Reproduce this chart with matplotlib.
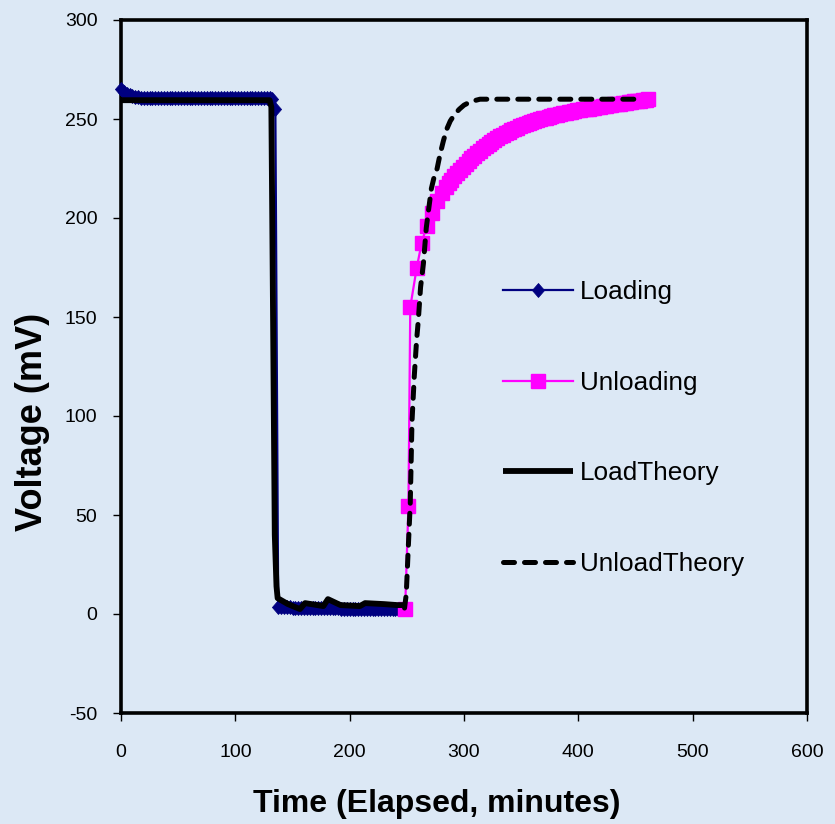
import matplotlib
matplotlib.use('Agg')
import matplotlib.pyplot as plt

plt.rcParams['font.family'] = ['Liberation Sans', 'DejaVu Sans']

# ---------------- data ----------------
load_t = [0, 2.5, 5, 7.5, 10, 12.5, 15, 17.5, 20, 22.5,
          25, 27.5, 30, 32.5, 35, 37.5, 40, 42.5, 45, 47.5,
          50, 52.5, 55, 57.5, 60, 62.5, 65, 67.5, 70, 72.5,
          75, 77.5, 80, 82.5, 85, 87.5, 90, 92.5, 95, 97.5,
          100, 102.5, 105, 107.5, 110, 112.5, 115, 117.5, 120, 122.5,
          125, 127.5, 130, 132.5, 135,
          137.5, 140, 142.5, 145, 147.5, 150, 152.5, 155, 157.5, 160,
          162.5, 165, 167.5, 170, 172.5, 175, 177.5, 180, 182.5, 185,
          187.5, 190, 192.5, 195, 197.5, 200, 202.5, 205, 207.5, 210,
          212.5, 215, 217.5, 220, 222.5, 225, 227.5, 230, 232.5, 235,
          237.5, 240, 242.5, 245, 247.5]
load_v = [265, 263.5, 262.5, 262, 261.5, 261.2, 261, 260.8, 260.7, 260.6,
          260.5, 260.5, 260.5, 260.5, 260.5, 260.5, 260.5, 260.5, 260.5, 260.5,
          260.5, 260.5, 260.5, 260.5, 260.5, 260.5, 260.5, 260.5, 260.5, 260.5,
          260.5, 260.5, 260.5, 260.5, 260.5, 260.5, 260.5, 260.5, 260.5, 260.5,
          260.5, 260.5, 260.5, 260.5, 260.5, 260.5, 260.5, 260.5, 260.5, 260.5,
          260.5, 260.5, 260.5, 260.3, 255,
          3.5, 3.4, 3.4, 3.3, 3.3, 3.2, 3.2, 3.2, 3.1, 3.1,
          3.1, 3.0, 3.0, 3.0, 2.9, 2.9, 2.9, 2.9, 2.8, 2.8,
          2.8, 2.8, 2.7, 2.7, 2.7, 2.7, 2.6, 2.6, 2.6, 2.6,
          2.6, 2.5, 2.5, 2.5, 2.5, 2.5, 2.4, 2.4, 2.4, 2.4,
          2.4, 2.4, 2.3, 2.3, 2.3]

unload_t = [248.5, 251.4, 253.0, 258.7, 263.0, 267.4, 271.8, 276.2, 280.6, 284.0,
            286.5, 289.0, 291.5, 294.0, 296.5, 299.0, 301.5, 304.0, 306.5, 309.0,
            311.5, 314.0, 316.5, 319.0, 321.5, 324.0, 326.5, 329.0, 331.5, 334.0,
            336.5, 339.0, 341.5, 344.0, 346.5, 349.0, 351.5, 354.0, 356.5, 359.0,
            361.5, 364.0, 366.5, 369.0, 371.5, 374.0, 376.5, 379.0, 381.5, 384.0,
            386.5, 389.0, 391.5, 394.0, 396.5, 399.0, 401.5, 404.0, 406.5, 409.0,
            411.5, 414.0, 416.5, 419.0, 421.5, 424.0, 426.5, 429.0, 431.5, 434.0,
            436.5, 439.0, 441.5, 444.0, 446.5, 449.0, 451.5, 454.0, 456.5, 459.0,
            461.0]
unload_v = [2.5, 54.5, 155, 175, 187.5, 196, 202.7, 208.6, 212.8, 215.8,
            217.6, 219.4, 221.1, 222.8, 224.4, 225.9, 227.4, 228.8, 230.2, 231.5,
            232.8, 234.0, 235.2, 236.3, 237.4, 238.4, 239.4, 240.3, 241.2, 242.0,
            242.8, 243.6, 244.3, 245.0, 245.7, 246.3, 246.9, 247.5, 248.0, 248.5,
            249.0, 249.5, 249.9, 250.3, 250.7, 251.1, 251.5, 251.9, 252.2, 252.5,
            252.8, 253.1, 253.4, 253.7, 254.0, 254.3, 254.6, 254.8, 255.1, 255.3,
            255.6, 255.8, 256.0, 256.3, 256.5, 256.7, 257.0, 257.2, 257.4, 257.6,
            257.8, 258.0, 258.3, 258.5, 258.7, 258.9, 259.1, 259.3, 259.6, 259.8,
            260.0]

load_theory_t = [0, 130, 131.5, 133, 134.5, 136, 137, 146, 156.5, 161,
                 177, 181, 192, 209, 213.5, 230, 241.5, 248]
load_theory_v = [259.5, 259.5, 256, 150, 40, 14, 8, 5, 2.5, 5.5,
                 4, 7.5, 4.5, 4, 5.5, 5, 4.5, 4.5]

unload_theory_t = [248, 249.5, 251, 253, 254.5, 256.5, 258.5, 260, 262, 264.5,
                   267, 269, 271.5, 274, 276.5, 279, 282, 285, 288, 292,
                   296, 300, 306, 314, 330, 452]
unload_theory_v = [3, 10, 30, 56, 97, 120, 138, 148, 165, 177,
                   195, 204, 215, 221, 225, 232, 239, 245, 249, 252.5,
                   255, 257, 258.8, 260, 260, 260]

x_ticks = [0, 100, 200, 300, 400, 500, 600]
y_ticks = [-50, 0, 50, 100, 150, 200, 250, 300]

# ---------------- figure ----------------
bg = '#dce8f5'
fig = plt.figure(figsize=(8.35, 8.24), dpi=100, facecolor=bg)
ax = fig.add_axes([121/835, 1-713/824, (807-121)/835, (713-20)/824])
ax.patch.set_alpha(0)

diamond = [(0, 1), (0.87, 0), (0, -1), (-0.87, 0), (0, 1)]
ax.plot(load_t, load_v, color='#000080', lw=1.6, marker=diamond, ms=10,
        mec='#000080', mfc='#000080', mew=0.6, label='Loading', zorder=3, clip_on=False)
ax.plot(unload_t, unload_v, color='#FF00FF', lw=1.6, marker='s', ms=9.5,
        mec='#FF00FF', mfc='#FF00FF', label='Unloading', zorder=4, clip_on=False)
ax.plot(load_theory_t, load_theory_v, color='black', lw=4.2, label='LoadTheory',
        zorder=5, solid_joinstyle='round', solid_capstyle='butt')
ax.plot(unload_theory_t, unload_theory_v, color='black', lw=3.6, label='UnloadTheory',
        zorder=6, dashes=(2.2, 2.0), dash_capstyle='round')

ax.set_xlim(0, 600)
ax.set_ylim(-50, 300)
ax.set_xticks(x_ticks)
ax.set_yticks(y_ticks)
ax.set_xticklabels([str(v) for v in x_ticks])
ax.set_yticklabels([str(v) for v in y_ticks])

for s in ax.spines.values():
    s.set_linewidth(2.6)
    s.set_color('black')
ax.tick_params(axis='both', direction='out', length=6, width=1, colors='black',
               labelsize=14)
ax.tick_params(axis='x', pad=16)
ax.tick_params(axis='y', pad=11)
ax.tick_params(top=False, right=False)

fig.text(437/835, 1-811.7/824, 'Time (Elapsed, minutes)', ha='center', va='baseline',
         fontsize=23, fontweight='bold')
fig.text(33/835, 1-422/824, 'Voltage (mV)', ha='center', va='center', rotation=90,
         fontsize=26, fontweight='bold', rotation_mode='anchor')

leg = ax.legend(loc='center left', bbox_to_anchor=(503/835, 1-428/824),
                bbox_transform=fig.transFigure, frameon=False, fontsize=18.8,
                handlelength=2.68, handletextpad=0.27, labelspacing=2.55,
                borderpad=0, borderaxespad=0, numpoints=1)

fig.savefig('out.png', dpi=100, facecolor=bg)
